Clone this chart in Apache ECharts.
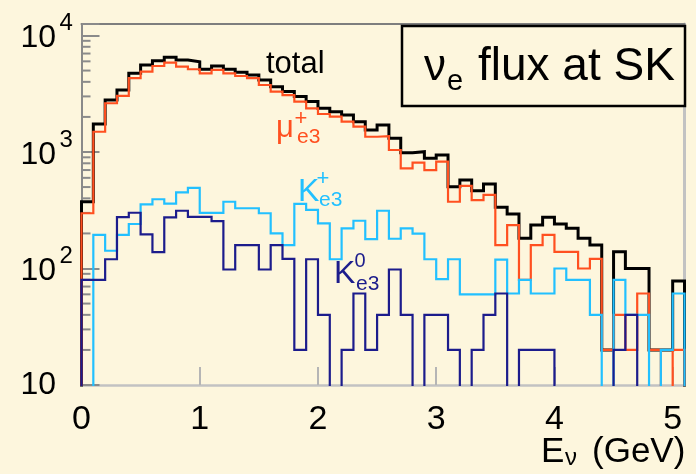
<!DOCTYPE html>
<html>
<head>
<meta charset="utf-8">
<script src="https://cdn.jsdelivr.net/npm/echarts@6/dist/echarts.min.js"></script>
<style>
  html, body { margin: 0; padding: 0; background: #fdf6dd; }
  #chart { width: 696px; height: 474px; }
</style>
</head>
<body>
<div id="chart"></div>
<script>
// Energy binning: 51 bins of 0.1 GeV starting at 0 GeV
const binWidth = 0.1;

// Neutrino flux per 0.1 GeV bin (0 = empty bin)
const totalFlux = [374, 1740, 2790, 3400, 4730, 5580, 6080, 6500, 6160, 5950,
  5130, 5470, 5130, 4830, 4580, 4150, 3640, 3300, 2990, 2710,
  2370, 2220, 2080, 1820, 1545, 1706, 1313, 986, 1006, 883,
  943, 504, 575, 465, 531, 335, 294, 182, 236, 275,
  241, 221, 182, 159, 20, 139, 100, 100, 20, 20, 78];

const muPlusFlux = [298, 1492, 2620, 3030, 4300, 4890, 5470, 5840, 5400, 5130,
  4730, 5060, 4730, 4490, 4300, 3760, 3300, 3080, 2710, 2370,
  2120, 2010, 1820, 1650, 1352, 1370, 1040, 724, 809, 700,
  826, 374, 511, 387, 428, 159, 236, 80, 159, 194,
  139, 139, 100, 121, 20, 40, 20, 61, 20, 0, 20];

const kPlusFlux = [0, 194, 142, 194, 241, 355, 393, 360, 450, 493,
  300, 300, 374, 329, 329, 298, 200, 159, 358, 318,
  244, 120, 221, 257, 179, 313, 180, 221, 199, 120,
  81, 120, 60, 60, 60, 119, 61, 80, 61, 61,
  100, 80, 80, 40, 0, 80, 40, 40, 0, 20, 61];

const kZeroFlux = [80, 80, 120, 276, 301, 196, 138, 275, 313, 277,
  277, 255, 98, 159, 159, 98, 159, 121, 20, 120,
  40, 0, 20, 61, 20, 40, 98, 40, 0, 40,
  40, 20, 0, 20, 40, 61, 0, 20, 20, 20,
  0, 0, 0, 0, 0, 20, 40, 0, 0, 0, 0];

// Axis ranges and tick labels
const xMin = 0, xMax = 5.1;
const xTickLabels = ['0', '1', '2', '3', '4', '5'];
const yMin = 10, yMax = 12550;
const yDecadeExponents = [1, 2, 3, 4]; // labels 10, 10^2, 10^3, 10^4

const BG = '#fdf6dd';
const FONT = '"Liberation Sans", Arial, Helvetica, sans-serif';
const EMPTY = 1; // empty bins sit below the axis floor and are clipped

// Step outline of a histogram: rises from the floor at the first edge,
// follows each bin, and falls back to the floor at the last edge.
function histOutline(values) {
  const pts = [[0, EMPTY]];
  values.forEach((v, i) => {
    pts.push([Math.round(i * binWidth * 100) / 100, v > 0 ? v : EMPTY]);
  });
  const last = values[values.length - 1];
  const end = Math.round(values.length * binWidth * 100) / 100;
  pts.push([end, last > 0 ? last : EMPTY]);
  pts.push([end, EMPTY]);
  return pts;
}

// Log-axis minor ticks at 2..9 x 10^d
const minorTicks = [];
for (let d = 1; d <= 3; d++) {
  for (let k = 2; k <= 9; k++) minorTicks.push([0, k * Math.pow(10, d)]);
}

function histSeries(name, values, color, width, z) {
  return {
    name, type: 'line', step: 'end', data: histOutline(values),
    symbol: 'none', clip: true, z, silent: true,
    lineStyle: { color, width, cap: 'butt', join: 'miter' }
  };
}

const chart = echarts.init(document.getElementById('chart'), null, { renderer: 'canvas' });

function txt(text, x, y, size, color, align) {
  return {
    type: 'text', z: 100, silent: true,
    style: {
      text, x, y, fill: color, fontSize: size, fontFamily: FONT,
      align: align || 'left', verticalAlign: 'middle'
    }
  };
}

chart.setOption({
  animation: false,
  backgroundColor: BG,
  textStyle: { fontFamily: FONT },
  grid: { left: 81.5, right: 11.5, top: 24, bottom: 89, containLabel: false },
  xAxis: [
    {
      type: 'value', min: xMin, max: xMax, interval: 1, position: 'bottom',
      axisLine: { onZero: false, lineStyle: { color: '#c2c2c2', width: 2.5 } },
      axisTick: { inside: true, length: 18, lineStyle: { color: '#b5b5b5', width: 2 } },
      axisLabel: {
        fontSize: 34, color: '#000', margin: 18, showMaxLabel: false,
        formatter: v => {
          const i = Math.round(v);
          return Math.abs(v - i) < 1e-6 && xTickLabels[i] !== undefined ? xTickLabels[i] : '';
        }
      },
      splitLine: { show: false }
    },
    {
      type: 'value', min: xMin, max: xMax, position: 'top',
      axisLine: { onZero: false, lineStyle: { color: '#7e7e7e', width: 2 } },
      axisTick: { show: false }, axisLabel: { show: false }, splitLine: { show: false }
    }
  ],
  yAxis: [
    {
      type: 'log', logBase: 10, min: yMin, max: yMax, position: 'left',
      axisLine: { onZero: false, lineStyle: { color: '#8a8a8a', width: 2 } },
      axisTick: { inside: true, length: 18, lineStyle: { color: '#8a8a8a', width: 2 } },
      axisLabel: { show: false },
      splitLine: { show: false }
    },
    {
      type: 'value', min: 0, max: 1, position: 'right',
      axisLine: { show: true, onZero: false, lineStyle: { color: '#c2c2c2', width: 3 } },
      axisTick: { show: false }, axisLabel: { show: false }, splitLine: { show: false }
    }
  ],
  series: [
    // minor ticks of the log axis
    {
      type: 'custom', silent: true, z: 1, clip: false,
      data: minorTicks, encode: { x: 0, y: 1 },
      renderItem: (params, api) => {
        const p = api.coord([0, api.value(1)]);
        return {
          type: 'line',
          shape: { x1: p[0], y1: p[1], x2: p[0] + 9, y2: p[1] },
          style: { stroke: '#8a8a8a', lineWidth: 2 }
        };
      }
    },
    // decade labels 10^n with raised exponent
    {
      type: 'custom', silent: true, z: 10, clip: false,
      data: yDecadeExponents.map(n => [0, Math.pow(10, n), n]),
      encode: { x: 0, y: 1 },
      renderItem: (params, api) => {
        const n = api.value(2);
        const p = api.coord([0, api.value(1)]);
        const left = p[0] - 61;
        const children = [{
          type: 'text',
          style: {
            text: '10', x: left, y: p[1] + (n === 1 ? 0.5 : 3),
            fontSize: 32, fontFamily: FONT, fill: '#000',
            align: 'left', verticalAlign: 'middle'
          }
        }];
        if (n !== 1) {
          children.push({
            type: 'text',
            style: {
              text: String(n), x: left + 39, y: p[1] - 12,
              fontSize: 24, fontFamily: FONT, fill: '#000',
              align: 'left', verticalAlign: 'middle'
            }
          });
        }
        return { type: 'group', children };
      }
    },
    histSeries('total', totalFlux, '#000000', 3, 2),
    histSeries('mu+ e3', muPlusFlux, '#ff5020', 2.2, 3),
    histSeries('K+ e3', kPlusFlux, '#22c0ff', 2.2, 4),
    histSeries('K0 e3', kZeroFlux, '#1c1c8c', 2.2, 5)
  ],
  graphic: [
    // title box
    {
      type: 'rect', z: 90, silent: true,
      shape: { x: 402, y: 26, width: 283, height: 80 },
      style: { fill: BG, stroke: '#000', lineWidth: 2.5 }
    },
    txt('ν', 424, 67.6, 44, '#000'),
    txt('e', 447, 81.9, 29, '#000'),
    txt('flux at SK', 478, 66.9, 46, '#000'),

    // component labels
    txt('total', 266, 64.2, 31, '#000'),
    txt('μ', 276, 128, 31, '#ff5020'),
    txt('+', 301, 119, 22, '#ff5020', 'center'),
    txt('e3', 297, 137.6, 21, '#ff5020'),
    txt('K', 298, 191.8, 32, '#22c0ff'),
    txt('+', 323, 178.5, 22, '#22c0ff', 'center'),
    txt('e3', 319, 200.6, 21, '#22c0ff'),
    txt('K', 334, 273.8, 32, '#1c1c8c'),
    txt('0', 360, 261, 20, '#1c1c8c', 'center'),
    txt('e3', 356, 284.6, 21, '#1c1c8c'),

    // x axis title
    txt('E', 541, 452.8, 35, '#000'),
    txt('ν', 565, 458.6, 24, '#000'),
    txt('(GeV)', 592, 452.8, 35, '#000')
  ]
});
</script>
</body>
</html>
